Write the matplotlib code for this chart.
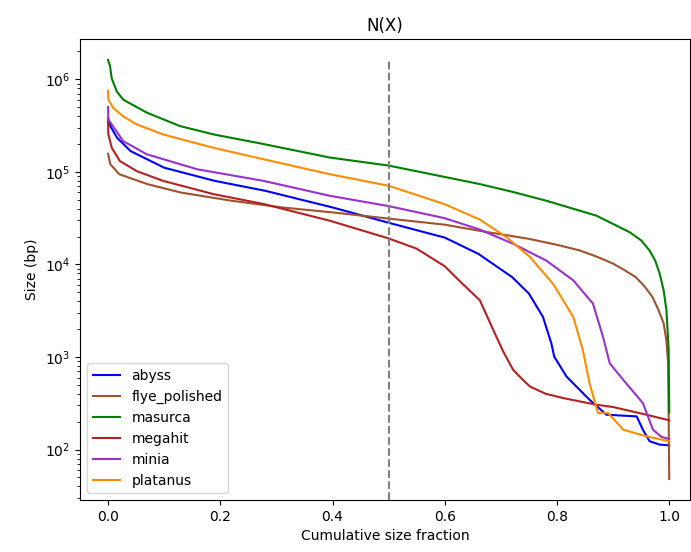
import numpy as np
import matplotlib
matplotlib.use("Agg")
import matplotlib.pyplot as plt

# cumulative size fraction (x) and contig size in bp (y) for each assembler
abyss_x = [0, 0.004, 0.016, 0.04, 0.1, 0.19, 0.28, 0.4, 0.5, 0.6, 0.66, 0.72, 0.75,
           0.775, 0.79, 0.795, 0.817, 0.858, 0.888, 0.942, 0.953, 0.965, 0.983, 1.0]
abyss_y = [380000, 313000, 234000, 168000, 111000, 80000, 62500, 41300, 28200, 19500,
           13000, 7300, 4840, 2710, 1400, 1010, 614, 345, 238, 228, 164, 123, 113, 111]

flye_x = [0, 0.004, 0.02, 0.07, 0.13, 0.22, 0.31, 0.4, 0.5, 0.6, 0.66, 0.75, 0.8, 0.84,
          0.87, 0.9, 0.92, 0.94, 0.955, 0.97, 0.98, 0.99, 0.995, 0.998, 1.0]
flye_y = [157000, 121000, 94400, 73800, 59800, 48800, 41300, 36500, 31300, 26900,
          23200, 18900, 16300, 14200, 12200, 10200, 8700, 7310, 5900, 4460, 3300, 2320,
          1500, 861, 48]

masurca_x = [0, 0.0036, 0.0066, 0.0155, 0.027, 0.069, 0.128, 0.188, 0.277, 0.395, 0.5,
             0.58, 0.6625, 0.72, 0.781, 0.87, 0.93, 0.95, 0.965, 0.975, 0.983, 0.99,
             0.995, 0.999, 1.0]
masurca_y = [1620000, 1380000, 1020000, 741000, 603000, 437000, 313000, 254000, 200000,
             143000, 117000, 93300, 73800, 61000, 48800, 33700, 22200, 18200, 14100,
             11000, 7940, 5250, 3200, 1190, 251]

megahit_x = [0, 0.0005, 0.0066, 0.021, 0.051, 0.098, 0.188, 0.277, 0.395, 0.5, 0.55, 0.6,
             0.63, 0.6625, 0.692, 0.705, 0.722, 0.74, 0.752, 0.78, 0.811, 0.87, 0.9,
             0.959, 1.0]
megahit_y = [353000, 254000, 182000, 131000, 102000, 80000, 57500, 45000, 29700, 19100,
             14800, 9550, 6310, 4100, 1650, 1120, 724, 560, 479, 400, 360, 305, 288,
             238, 207]

minia_x = [0, 0.0005, 0.0125, 0.027, 0.069, 0.158, 0.277, 0.395, 0.5, 0.6, 0.6625, 0.722,
           0.781, 0.829, 0.864, 0.882, 0.894, 0.918, 0.953, 0.971, 0.986, 1.0]
minia_y = [501000, 368000, 288000, 215000, 155000, 107000, 80000, 55200, 42700, 31600,
           23800, 16700, 11000, 6730, 3780, 1650, 855, 566, 318, 164, 137, 130]

platanus_x = [0, 0.0005, 0.0094, 0.027, 0.051, 0.098, 0.188, 0.277, 0.395, 0.5, 0.6, 0.6625,
              0.71, 0.752, 0.793, 0.829, 0.846, 0.858, 0.873, 0.891, 0.918, 0.959, 1.0]
platanus_y = [755000, 603000, 490000, 398000, 326000, 254000, 182000, 137000, 94400, 70800,
              44700, 30500, 19700, 12000, 6170, 2710, 1190, 521, 248, 248, 164, 139, 123]

assemblers = ["abyss", "flye_polished", "masurca", "megahit", "minia", "platanus"]
colors = ["blue", "sienna", "green", "firebrick", "darkorchid", "darkorange"]
xs = [abyss_x, flye_x, masurca_x, megahit_x, minia_x, platanus_x]
ys = [abyss_y, flye_y, masurca_y, megahit_y, minia_y, platanus_y]

fig = plt.figure(figsize=(6.91, 5.52), dpi=100)
ax = fig.add_axes([80 / 691, 52 / 552, 610 / 691, 461 / 552])

for name, c, x, y in zip(assemblers, colors, xs, ys):
    ax.plot(x, y, color=c, label=name)

ax.set_yscale("log")
ax.set_xlim(-0.05, 1.037)
ax.axvline(0.5, ymax=0.955, color="grey", linestyle="--")

ax.set_title("N(X)")
ax.set_xlabel("Cumulative size fraction")
ax.set_ylabel("Size (bp)")
ax.legend(loc="lower left")

fig.savefig("out.png", dpi=100)
